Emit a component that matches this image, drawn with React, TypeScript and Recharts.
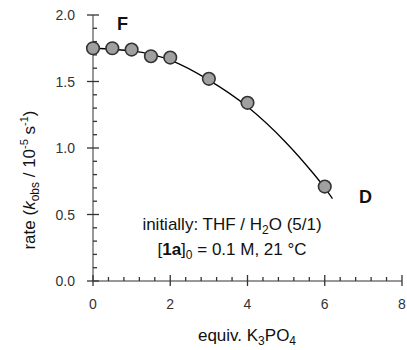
import React from 'react'
import { ComposedChart, Line, Scatter, XAxis, YAxis, ReferenceLine } from 'recharts'

// measured rates (10^-5 s^-1) vs equiv. K3PO4
const equiv = [0, 0.5, 1, 1.5, 2, 3, 4, 6]
const rate = [1.75, 1.75, 1.74, 1.69, 1.68, 1.52, 1.34, 0.71]

// fitted curve
const fitX = [0, 1, 2, 3, 4, 5, 5.7, 6, 6.2]
const fitY = [1.75, 1.73, 1.66, 1.51, 1.31, 1.04, 0.81, 0.7, 0.62]

const xTicks = [0, 0.4, 0.8, 1.2, 1.6, 2, 2.4, 2.8, 3.2, 3.6, 4, 4.4, 4.8, 5.2, 5.6, 6, 6.4, 6.8, 7.2, 7.6, 8]
const xMajor = [0, 2, 4, 6, 8]
const yTicks = [0, 0.1, 0.2, 0.3, 0.4, 0.5, 0.6, 0.7, 0.8, 0.9, 1, 1.1, 1.2, 1.3, 1.4, 1.5, 1.6, 1.7, 1.8, 1.9, 2]
const yMajor = [0, 0.5, 1, 1.5, 2]

const points = equiv.map((x, i) => ({ x, y: rate[i] }))
const fit = fitX.map((x, i) => ({ x, y: fitY[i] }))

const AXIS = '#333'
const FONT = '"Liberation Sans", Arial, sans-serif'

const isMajor = (list: number[], v: number) => list.some((m) => Math.abs(m - v) < 1e-6)

// tick lengths in data units (plot is ~38.6 px per x unit, ~133 px per y unit)
const X_MINOR_UP = 0.03
const X_MAJOR_UP = 0.045
const X_MAJOR_DOWN = 0.038
const Y_MINOR_IN = 0.104
const Y_MAJOR_HALF = 0.155

function XTick(props: any) {
  const { x, y, payload } = props
  const v = payload.value
  if (!isMajor(xMajor, v)) return <g />
  return (
    <text x={x} y={y + 28} textAnchor="middle" fontSize={14} fill={AXIS} fontFamily={FONT}>
      {v}
    </text>
  )
}

function YTick(props: any) {
  const { x, y, payload } = props
  const v = payload.value
  if (!isMajor(yMajor, v)) return <g />
  return (
    <text x={x - 18} y={y + 5} textAnchor="end" fontSize={14} fill={AXIS} fontFamily={FONT}>
      {v.toFixed(1)}
    </text>
  )
}

const Dot = (p: any) => (
  <circle cx={p.cx} cy={p.cy} r={6.3} fill="#a0a0a0" stroke="#333" strokeWidth={1.6} />
)

export default function App() {
  return (
    <div style={{ position: 'absolute', left: 0, top: 0 }}>
      <ComposedChart width={407} height={350} margin={{ top: 15, right: 5, bottom: 0, left: 0 }}>
        <XAxis
          type="number"
          dataKey="x"
          domain={[0, 8]}
          ticks={xTicks}
          interval={0}
          height={69}
          tickSize={0}
          tickMargin={0}
          tickLine={false}
          stroke={AXIS}
          tick={<XTick />}
        />
        <YAxis
          type="number"
          dataKey="y"
          domain={[0, 2]}
          ticks={yTicks}
          interval={0}
          width={93}
          tickSize={0}
          tickMargin={0}
          tickLine={false}
          stroke={AXIS}
          tick={<YTick />}
        />
        {xTicks.map((v) => {
          const major = isMajor(xMajor, v)
          return (
            <ReferenceLine
              key={'x' + v}
              segment={[
                { x: v, y: major ? -X_MAJOR_DOWN : 0 },
                { x: v, y: major ? X_MAJOR_UP : X_MINOR_UP },
              ]}
              stroke={AXIS}
              strokeWidth={1.3}
              ifOverflow="visible"
            />
          )
        })}
        {yTicks.map((v) => {
          const major = isMajor(yMajor, v)
          return (
            <ReferenceLine
              key={'y' + v}
              segment={[
                { x: major ? -Y_MAJOR_HALF : 0, y: v },
                { x: major ? Y_MAJOR_HALF : Y_MINOR_IN, y: v },
              ]}
              stroke={AXIS}
              strokeWidth={1.3}
              ifOverflow="visible"
            />
          )
        })}
        <Line
          data={fit}
          dataKey="y"
          type="natural"
          stroke="#000"
          strokeWidth={1.3}
          dot={false}
          activeDot={false}
          isAnimationActive={false}
        />
        <Scatter data={points} dataKey="y" shape={Dot} isAnimationActive={false} />
        <g fontFamily={FONT} fill="#111">
          <text x={117} y={30} fontSize={18} fontWeight="bold">F</text>
          <text x={359} y={203} fontSize={18} fontWeight="bold">D</text>
          <text x={232} y={230} fontSize={17} textAnchor="middle">
            initially: THF / H<tspan fontSize={12} dy={4}>2</tspan>
            <tspan dy={-4}>O (5/1)</tspan>
          </text>
          <text x={232} y={255} fontSize={17} textAnchor="middle">
            [<tspan fontWeight="bold">1a</tspan>]<tspan fontSize={12} dy={4}>0</tspan>
            <tspan dy={-4}> = 0.1 M, 21 °C</tspan>
          </text>
          <text x={247} y={341} fontSize={17} textAnchor="middle">
            equiv. K<tspan fontSize={12} dy={4}>3</tspan>
            <tspan dy={-4}>PO</tspan>
            <tspan fontSize={12} dy={4}>4</tspan>
          </text>
          <text transform="translate(35,180) rotate(-90)" fontSize={17} textAnchor="middle">
            rate (<tspan fontStyle="italic">k</tspan>
            <tspan fontSize={12} dy={4}>obs</tspan>
            <tspan dy={-4}> / 10</tspan>
            <tspan fontSize={11} dy={-7}>-5</tspan>
            <tspan dy={7}> s</tspan>
            <tspan fontSize={11} dy={-7}>-1</tspan>
            <tspan dy={7}>)</tspan>
          </text>
        </g>
      </ComposedChart>
    </div>
  )
}
